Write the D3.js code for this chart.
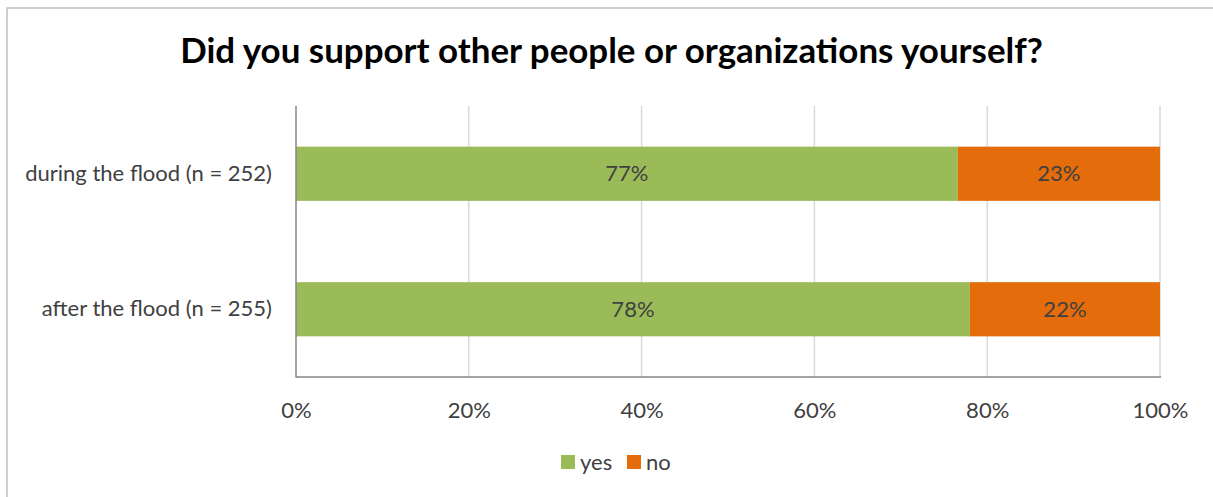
<!DOCTYPE html>
<html>
<head>
<meta charset="utf-8">
<script src="https://cdn.jsdelivr.net/npm/d3@7"></script>
<style>
  html, body { margin: 0; padding: 0; background: #fff; }
  svg { display: block; }
</style>
</head>
<body>
<svg id="chart" width="1213" height="497"></svg>
<script>
// Survey answers, share of respondents
const categories = ["during the flood (n = 252)", "after the flood (n = 255)"];
const seriesNames = ["yes", "no"];
const yesValues = [0.766, 0.780];
const noValues = [0.234, 0.220];
const tickValues = [0, 0.2, 0.4, 0.6, 0.8, 1.0];
const titleText = "Did you support other people or organizations yourself?";

const colors = { yes: "#9bbb59", no: "#e46c0a" };
const textColor = "#404040";
const fontFamily = "Lato, 'Open Sans', sans-serif";

const svg = d3.select("#chart");

// Font sizes chosen so text spans the intended widths
function sizeFor(str, weight, targetWidth) {
  const probe = svg.append("text")
    .attr("font-family", fontFamily)
    .attr("font-weight", weight)
    .attr("font-size", 100)
    .text(str);
  const w = probe.node().getComputedTextLength();
  probe.remove();
  return 100 * targetWidth / w;
}
const bodySize = sizeFor(categories[0], "normal", 247);
const titleSize = sizeFor(titleText, "bold", 863);

// Chart frame
svg.append("rect")
  .attr("x", 7).attr("y", 8)
  .attr("width", 1230).attr("height", 520)
  .attr("fill", "#fff")
  .attr("stroke", "#bfbfbf")
  .attr("stroke-width", 1.5);

// Title
svg.append("text")
  .attr("x", 611.5).attr("y", 63)
  .attr("text-anchor", "middle")
  .attr("font-family", fontFamily)
  .attr("font-weight", "bold")
  .attr("font-size", titleSize)
  .attr("fill", "#000")
  .text(titleText);

const x = d3.scaleLinear().domain([0, 1]).range([296, 1160]);
const y = d3.scaleBand().domain(categories).range([106, 377])
  .paddingInner(0.6).paddingOuter(0.3);

// Vertical gridlines
svg.append("g")
  .selectAll("line")
  .data(tickValues.slice(1))
  .join("line")
  .attr("x1", d => x(d)).attr("x2", d => x(d))
  .attr("y1", 106).attr("y2", 377)
  .attr("stroke", "#d9d9d9")
  .attr("stroke-width", 1.5);

// Stacked bars
const rows = categories.map((c, i) => ({ cat: c, yes: yesValues[i], no: noValues[i] }));
const stack = d3.stack().keys(seriesNames)(rows);

const layers = svg.append("g")
  .selectAll("g")
  .data(stack)
  .join("g")
  .attr("fill", d => colors[d.key]);

layers.selectAll("rect")
  .data(d => d)
  .join("rect")
  .attr("x", d => x(d[0]))
  .attr("y", d => y(d.data.cat))
  .attr("width", d => x(d[1]) - x(d[0]))
  .attr("height", y.bandwidth());

// Value labels inside segments
const pct = d3.format(".0%");
layers.selectAll("text")
  .data(d => d)
  .join("text")
  .attr("x", d => (x(d[0]) + x(d[1])) / 2)
  .attr("y", d => y(d.data.cat) + y.bandwidth() / 2)
  .attr("dy", "0.35em")
  .attr("text-anchor", "middle")
  .attr("font-family", fontFamily)
  .attr("font-size", bodySize)
  .attr("fill", textColor)
  .text(d => pct(d[1] - d[0]));

// Axes lines
svg.append("line")
  .attr("x1", 296).attr("x2", 296).attr("y1", 106).attr("y2", 377.5)
  .attr("stroke", "#868686").attr("stroke-width", 1.5);
svg.append("line")
  .attr("x1", 296).attr("x2", 1161).attr("y1", 377).attr("y2", 377)
  .attr("stroke", "#868686").attr("stroke-width", 1.5);

// X axis tick labels
const xAxis = d3.axisBottom(x).tickValues(tickValues).tickFormat(d3.format(".0%"))
  .tickSize(0).tickPadding(0);
const gx = svg.append("g").attr("transform", "translate(0,402)").call(xAxis);
gx.select(".domain").remove();
gx.selectAll("text")
  .attr("font-family", fontFamily)
  .attr("font-size", bodySize)
  .attr("fill", textColor);

// Category labels
const yAxis = d3.axisLeft(y).tickSize(0).tickPadding(0);
const gy = svg.append("g").attr("transform", "translate(272,0)").call(yAxis);
gy.select(".domain").remove();
gy.selectAll("text")
  .attr("font-family", fontFamily)
  .attr("font-size", bodySize)
  .attr("fill", textColor);

// Legend
const legend = svg.append("g").attr("transform", "translate(561,455)");
const legendX = [0, 66];
seriesNames.forEach((k, i) => {
  const g = legend.append("g").attr("transform", `translate(${legendX[i]},0)`);
  g.append("rect").attr("width", 14).attr("height", 14).attr("fill", colors[k]);
  g.append("text")
    .attr("x", 19).attr("y", 7).attr("dy", "0.35em")
    .attr("font-family", fontFamily)
    .attr("font-size", bodySize)
    .attr("fill", textColor)
    .text(k);
});
</script>
</body>
</html>
